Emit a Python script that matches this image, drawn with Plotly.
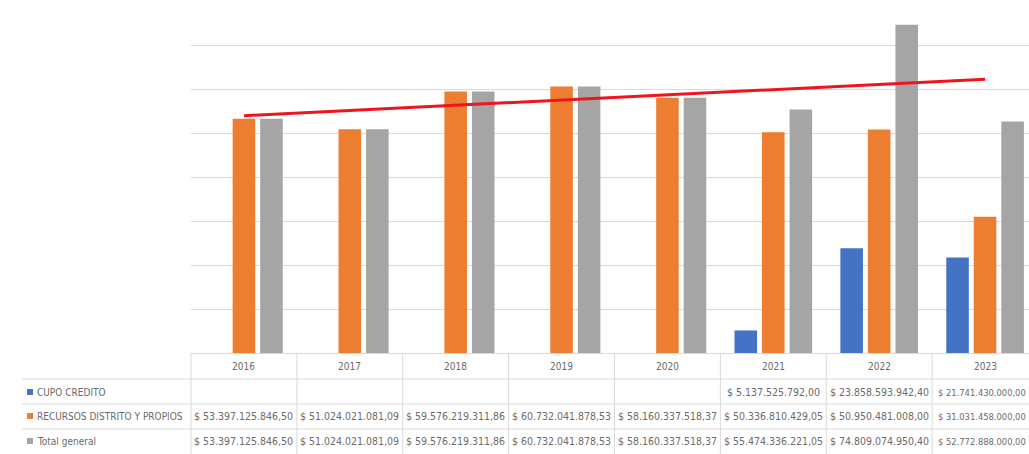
import numpy as np
import plotly.graph_objects as go

years = ['2016', '2017', '2018', '2019', '2020', '2021', '2022', '2023']
cupo = [None, None, None, None, None, 5137525792.00, 23858593942.40, 21741430000.00]
recursos = [53397125846.50, 51024021081.09, 59576219311.86, 60732041878.53,
            58160337518.37, 50336810429.05, 50950481008.00, 31031458000.00]
total = [53397125846.50, 51024021081.09, 59576219311.86, 60732041878.53,
         58160337518.37, 55474336221.05, 74809074950.40, 52772888000.00]
series_names = ['CUPO CREDITO', 'RECURSOS DISTRITO Y PROPIOS', 'Total general']
colors = ['#4472C4', '#ED7D31', '#A5A5A5']

W, H = 1029, 454
L, T, B, R = 191, 2, 101, 0
pw, ph = W - L - R, H - T - B


def px(x):
    return (x - L) / pw


def py(y):
    return (H - B - y) / ph


def fmt(v):
    s = f"{v:,.2f}"
    s = s.replace(',', 'X').replace('.', ',').replace('X', '.')
    return '$ ' + s


FONT = 'Liberation Sans Narrow, DejaVu Sans Condensed, Arial Narrow, sans-serif'
TXT = '#6b6b6b'
GRID = '#D9D9D9'

fig = go.Figure()
for name, vals, col in zip(series_names, [cupo, recursos, total], colors):
    fig.add_trace(go.Bar(x=years, y=vals, name=name, marker=dict(color=col, line=dict(width=0))))

# linear trendline of Total general
idx = np.arange(len(years))
coef = np.polyfit(idx, np.array(total), 1)
trend = np.polyval(coef, idx)
fig.add_trace(go.Scatter(x=years, y=trend, mode='lines', line=dict(color='#F0141E', width=3),
                         name='Lineal (Total general)', hoverinfo='skip'))

fig.update_layout(
    width=W, height=H,
    margin=dict(l=L, r=R, t=T, b=B, pad=0),
    paper_bgcolor='white', plot_bgcolor='white',
    barmode='group', bargap=0.22, bargroupgap=0.18,
    showlegend=False,
    xaxis=dict(type='category', range=[-0.5, 7.5 - 9 / 105.8], showticklabels=False,
               showgrid=False, zeroline=False, showline=False, ticks=''),
    yaxis=dict(range=[0, 80e9], dtick=10e9, showticklabels=False, showgrid=True,
               gridcolor=GRID, gridwidth=1, zeroline=True, zerolinecolor=GRID,
               zerolinewidth=1, showline=False, ticks=''),
)

shapes = []
annotations = []
line = dict(color=GRID, width=1)

# vertical column separators of the data table
shapes.append(dict(type='line', xref='paper', yref='paper', x0=0, x1=0,
                   y0=py(353), y1=py(454), line=line))
for k in range(len(years)):
    shapes.append(dict(type='line', xref='x', yref='paper', x0=k + 0.5, x1=k + 0.5,
                       y0=py(353), y1=py(454), line=line))
# horizontal row separators
for yy in [379, 404, 429]:
    shapes.append(dict(type='line', xref='paper', yref='paper', x0=px(22), x1=px(W),
                       y0=py(yy), y1=py(yy), line=line))

# year header
for k, yr in enumerate(years):
    annotations.append(dict(x=k, y=py(366), xref='x', yref='paper', text=yr, showarrow=False,
                            font=dict(family=FONT, size=10, color=TXT), xanchor='center', yanchor='middle'))

row_y = [392, 416, 441]
last = len(years) - 1
for name, vals, col, ry in zip(series_names, [cupo, recursos, total], colors, row_y):
    shapes.append(dict(type='rect', xref='paper', yref='paper', x0=px(27), x1=px(33),
                       y0=py(ry + 3), y1=py(ry - 3), fillcolor=col, line=dict(width=0)))
    annotations.append(dict(x=px(35), y=py(ry), xref='paper', yref='paper', text=name,
                            showarrow=False, xanchor='left', yanchor='middle',
                            font=dict(family=FONT, size=10, color=TXT)))
    for k, v in enumerate(vals):
        if v is None:
            continue
        if k == last:
            # keep the last (partly visible) column inside the window
            annotations.append(dict(x=px(W - 1), y=py(ry), xref='paper', yref='paper', text=fmt(v),
                                    showarrow=False, xanchor='right', yanchor='middle',
                                    font=dict(family=FONT, size=9.3, color=TXT)))
        else:
            annotations.append(dict(x=k, y=py(ry), xref='x', yref='paper', text=fmt(v),
                                    showarrow=False, xanchor='center', yanchor='middle',
                                    font=dict(family=FONT, size=10.5, color=TXT)))

fig.update_layout(shapes=shapes, annotations=annotations)
fig.write_html('out.html', config={'displayModeBar': False},
               post_script="document.body.style.margin='0';document.body.style.overflow='hidden';")
